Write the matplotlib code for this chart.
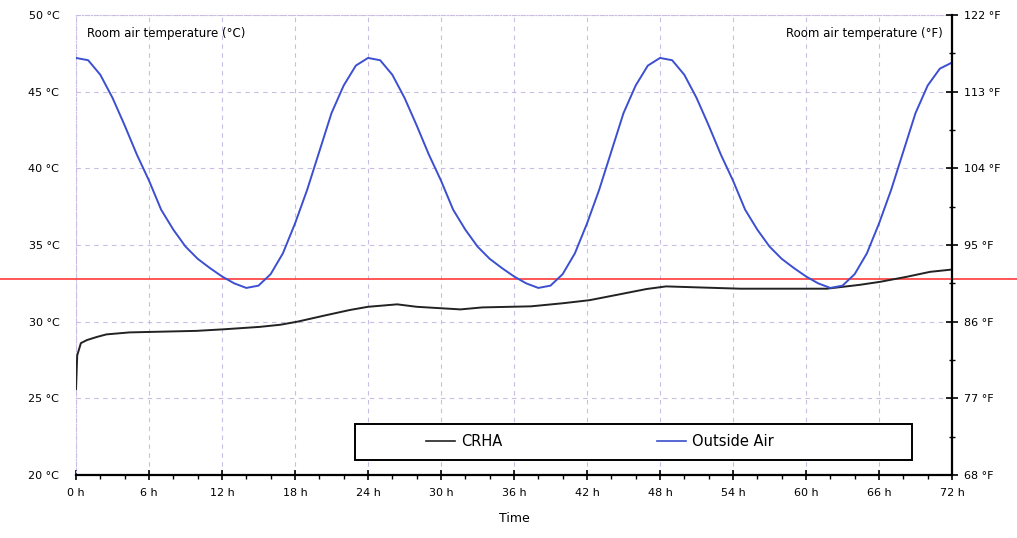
import numpy as np
import matplotlib.pyplot as plt
from matplotlib.ticker import MultipleLocator, FixedLocator
from matplotlib.patches import Rectangle
from matplotlib.lines import Line2D

# outside air temperature, read hourly 0..72 h
hours_out = np.arange(0, 73)
outside_air = [47.2, 47.05, 46.1, 44.6, 42.8, 40.9, 39.2, 37.3, 36.0, 34.9, 34.1, 33.5,
               32.95, 32.5, 32.2, 32.35, 33.1, 34.45, 36.4, 38.6, 41.1, 43.6, 45.4, 46.7,
               47.2, 47.05, 46.1, 44.6, 42.8, 40.9, 39.2, 37.3, 36.0, 34.9, 34.1, 33.5,
               32.95, 32.5, 32.2, 32.35, 33.1, 34.45, 36.4, 38.6, 41.1, 43.6, 45.4, 46.7,
               47.2, 47.05, 46.1, 44.6, 42.8, 40.9, 39.2, 37.3, 36.0, 34.9, 34.1, 33.5,
               32.95, 32.5, 32.2, 32.35, 33.1, 34.45, 36.4, 38.6, 41.1, 43.6, 45.4, 46.5,
               46.9]

# CRHA room temperature
hours_crha = [0, 0.1, 0.4, 0.9, 1.7, 2.5, 4.4, 9.9, 12.1, 15.1, 16.8, 18.2, 20.6, 22.5,
              24.0, 26.4, 28.0, 31.6, 33.4, 37.4, 40.0, 42.2, 44.4, 46.9, 48.5, 54.6,
              61.7, 64.4, 66.1, 68.3, 70.2, 72]
crha = [25.6, 27.8, 28.6, 28.8, 29.0, 29.17, 29.3, 29.4, 29.5, 29.66, 29.8, 30.0, 30.43,
        30.76, 30.97, 31.13, 30.97, 30.8, 30.93, 31.0, 31.2, 31.4, 31.74, 32.13, 32.3,
        32.15, 32.15, 32.4, 32.6, 32.93, 33.25, 33.4]

limit_temp = 32.8
x_ticks = list(range(0, 73, 6))
x_labels = [f'{t} h' for t in x_ticks]
c_ticks = list(range(20, 51, 5))
f_ticks = list(range(68, 123, 9))

fig = plt.figure(figsize=(10.17, 5.38), dpi=100)
ax = fig.add_axes([76/1017, 1-475/538, 876/1017, 460/538])

crha_col = '#222222'
out_col = '#3b4fd0'
ax.plot(hours_crha, crha, color=crha_col, lw=1.4, zorder=5)
ax.plot(hours_out, outside_air, color=out_col, lw=1.4, zorder=5)
# limit line runs across the whole figure width
ax.axhline(limit_temp, xmin=-76/876, xmax=1017/876 - 76/876, color='#ff3b3b', lw=1.2,
           clip_on=False, zorder=4)

ax.set_xlim(0, 72)
ax.set_ylim(20, 50)
ax.set_xticks(x_ticks)
ax.set_xticklabels(x_labels, fontsize=8)
ax.xaxis.set_minor_locator(MultipleLocator(2))
ax.set_yticks(c_ticks)
ax.set_yticklabels([f'{t} °C' for t in c_ticks], fontsize=8)
ax.tick_params(axis='x', which='major', direction='inout', length=7, width=1.2, pad=6)
ax.tick_params(axis='x', which='minor', direction='out', length=3, width=1)
ax.tick_params(axis='y', length=0, pad=12)
ax.set_xlabel('Time', fontsize=9, labelpad=10)

ax.grid(True, which='major', color='#c9bde3', linestyle=(0, (4, 4)), lw=0.8)
for s in ['left', 'top']:
    ax.spines[s].set_color('#c9bde3')
    ax.spines[s].set_linestyle(':')
ax.spines['bottom'].set_linewidth(1.6)
ax.spines['right'].set_visible(False)

ax2 = ax.twinx()
ax2.set_ylim(68, 122)
ax2.set_yticks(f_ticks)
ax2.set_yticklabels([f'{t} °F' for t in f_ticks], fontsize=8)
ax2.yaxis.set_minor_locator(FixedLocator([t + 4.5 for t in f_ticks[:-1]]))
ax2.tick_params(axis='y', which='major', direction='inout', length=9, width=1.2, pad=4)
ax2.tick_params(axis='y', which='minor', direction='inout', length=4, width=1)
ax2.spines['right'].set_linewidth(1.6)
for s in ['left', 'top', 'bottom']:
    ax2.spines[s].set_visible(False)

ax.text(0.012, 0.96, 'Room air temperature (°C)', transform=ax.transAxes, fontsize=8.5,
        va='center', ha='left')
ax.text(0.99, 0.96, 'Room air temperature (°F)', transform=ax.transAxes, fontsize=8.5,
        va='center', ha='right')

# legend box drawn separately, entries placed inside it
ax.add_patch(Rectangle((279/876, 15/460), 557/876, 36/460, transform=ax.transAxes,
                       facecolor='white', edgecolor='black', lw=1.4, zorder=6))
handles = [Line2D([], [], color=crha_col, lw=1.2), Line2D([], [], color=out_col, lw=1.2)]
leg = ax.legend(handles, ['CRHA', 'Outside Air'], loc='center',
                bbox_to_anchor=(((436 + 763) / 2 - 76) / 876, (475 - 442) / 460),
                ncol=2, fontsize=10.5, frameon=False, handlelength=2.0,
                handletextpad=0.4, columnspacing=10.6)
leg.set_zorder(7)

fig.savefig('out.png', dpi=100)
